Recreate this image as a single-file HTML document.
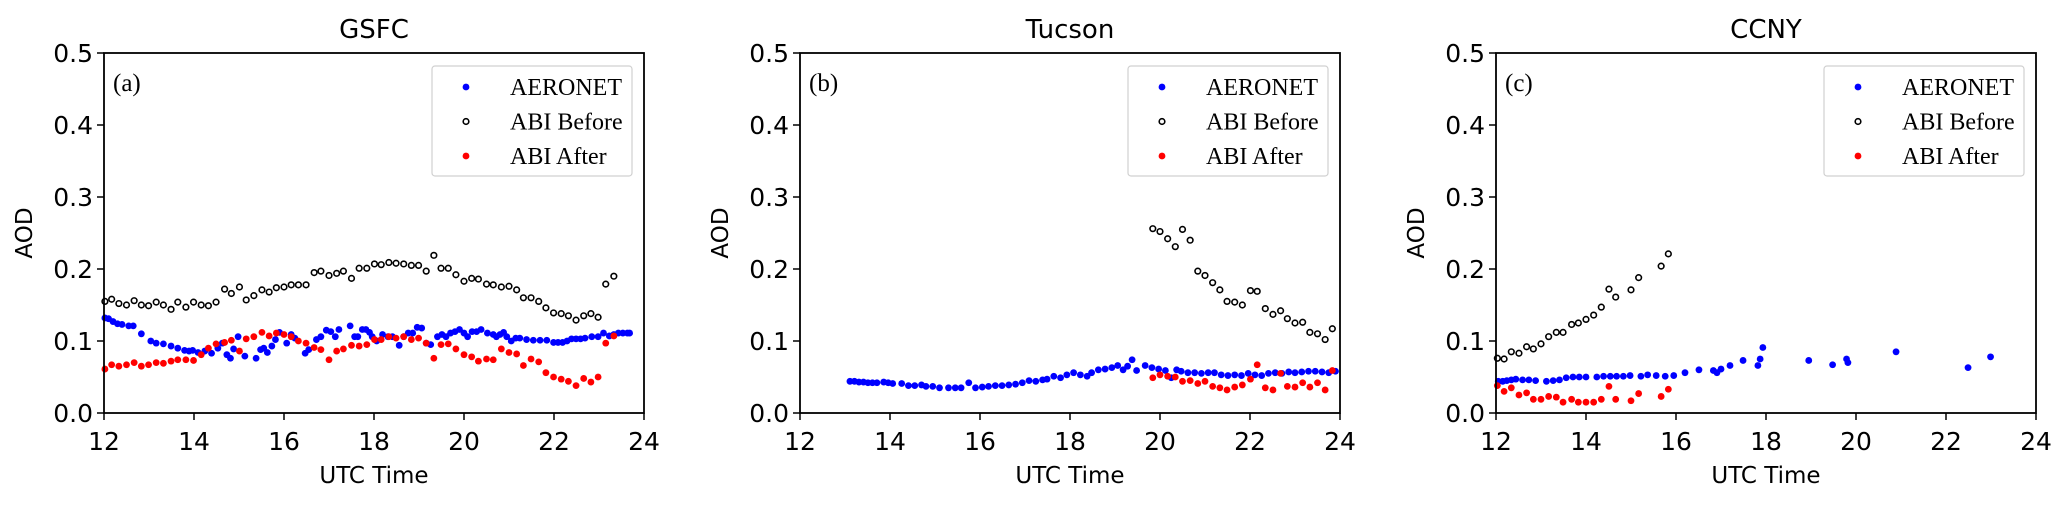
<!DOCTYPE html>
<html><head><meta charset="utf-8"><style>
body{margin:0;background:#fff;width:2067px;height:500px;overflow:hidden}
svg text{font-family:"DejaVu Sans","Liberation Sans",sans-serif;fill:#000}
.serif{font-family:"Liberation Serif",serif}
</style></head><body>
<svg id="chart" width="2067" height="500" xmlns="http://www.w3.org/2000/svg"></svg>
<script>
const panelTitles=["GSFC","Tucson","CCNY"];
const panelLabels=["(a)","(b)","(c)"];
const xTicks=[12,14,16,18,20,22,24];
const yTicks=[0.0,0.1,0.2,0.3,0.4,0.5];
const yTickLabels=["0.0","0.1","0.2","0.3","0.4","0.5"];
const legendLabels=["AERONET","ABI Before","ABI After"];

const gsfcAeronetT=[12.02,12.10,12.20,12.30,12.40,12.55,12.65,12.83,13.04,13.16,13.32,13.49,13.64,13.79,13.89,13.97,14.09,14.24,14.39,14.53,14.63,14.73,14.81,14.88,14.98,15.13,15.38,15.48,15.55,15.63,15.73,15.81,15.90,16.06,16.16,16.24,16.47,16.55,16.72,16.82,16.94,17.04,17.14,17.22,17.47,17.57,17.64,17.74,17.82,17.90,17.96,18.06,18.19,18.31,18.41,18.56,18.66,18.76,18.86,18.96,19.06,19.16,19.26,19.41,19.51,19.60,19.70,19.80,19.90,20.00,20.08,20.18,20.28,20.38,20.52,20.65,20.72,20.80,20.88,20.95,21.05,21.15,21.24,21.39,21.54,21.69,21.84,21.99,22.09,22.19,22.29,22.39,22.49,22.59,22.69,22.84,22.98,23.10,23.23,23.33,23.43,23.53,23.63,23.68];
const gsfcAeronetV=[0.132,0.131,0.127,0.124,0.123,0.121,0.121,0.110,0.100,0.097,0.096,0.093,0.090,0.087,0.086,0.087,0.084,0.086,0.083,0.090,0.097,0.081,0.076,0.089,0.106,0.079,0.076,0.088,0.090,0.084,0.093,0.102,0.112,0.097,0.109,0.104,0.083,0.088,0.102,0.106,0.115,0.113,0.106,0.116,0.121,0.106,0.106,0.116,0.116,0.112,0.106,0.100,0.109,0.106,0.106,0.094,0.106,0.111,0.111,0.119,0.118,0.097,0.095,0.106,0.109,0.106,0.111,0.113,0.116,0.111,0.106,0.113,0.113,0.116,0.111,0.109,0.106,0.109,0.112,0.106,0.100,0.104,0.104,0.102,0.101,0.101,0.101,0.098,0.098,0.098,0.100,0.103,0.103,0.103,0.104,0.106,0.106,0.111,0.107,0.109,0.111,0.111,0.111,0.111];
const gsfcAbiT=[12.02,12.17,12.33,12.50,12.67,12.83,12.99,13.16,13.32,13.49,13.64,13.82,13.99,14.16,14.32,14.49,14.68,14.83,15.01,15.16,15.33,15.51,15.67,15.83,16.00,16.16,16.32,16.49,16.67,16.82,17.00,17.17,17.32,17.50,17.67,17.84,18.01,18.16,18.33,18.49,18.66,18.83,18.99,19.16,19.33,19.49,19.65,19.82,20.00,20.17,20.32,20.50,20.65,20.83,21.00,21.17,21.32,21.49,21.66,21.82,21.99,22.16,22.32,22.49,22.66,22.82,22.98,23.15,23.33];
const gsfcBeforeV=[0.155,0.158,0.152,0.150,0.156,0.150,0.149,0.154,0.150,0.144,0.154,0.147,0.154,0.150,0.149,0.154,0.172,0.166,0.175,0.157,0.163,0.171,0.168,0.174,0.175,0.178,0.178,0.178,0.195,0.197,0.191,0.194,0.197,0.187,0.201,0.201,0.207,0.206,0.209,0.208,0.207,0.205,0.205,0.197,0.219,0.201,0.201,0.192,0.183,0.187,0.186,0.179,0.178,0.175,0.176,0.171,0.160,0.160,0.155,0.146,0.139,0.138,0.135,0.129,0.135,0.138,0.133,0.179,0.190];
const gsfcAfterV=[0.061,0.067,0.065,0.067,0.070,0.065,0.067,0.070,0.069,0.072,0.074,0.074,0.073,0.081,0.090,0.096,0.098,0.101,0.086,0.103,0.106,0.112,0.107,0.111,0.109,0.106,0.100,0.097,0.091,0.088,0.074,0.086,0.089,0.094,0.093,0.095,0.102,0.102,0.106,0.104,0.106,0.102,0.104,0.097,0.076,0.095,0.096,0.089,0.081,0.078,0.072,0.075,0.074,0.089,0.084,0.082,0.066,0.075,0.071,0.056,0.050,0.047,0.044,0.038,0.048,0.043,0.050,0.097,0.107];

const tucAeronetT=[13.11,13.21,13.31,13.41,13.51,13.61,13.71,13.86,13.96,14.06,14.26,14.41,14.55,14.70,14.80,14.95,15.10,15.30,15.45,15.58,15.75,15.90,16.05,16.19,16.34,16.49,16.64,16.79,16.94,17.09,17.24,17.39,17.49,17.64,17.79,17.93,18.08,18.23,18.38,18.48,18.63,18.78,18.93,19.06,19.18,19.28,19.38,19.48,19.67,19.82,19.97,20.12,20.25,20.37,20.47,20.62,20.77,20.92,21.07,21.21,21.36,21.51,21.66,21.81,21.96,22.11,22.26,22.41,22.56,22.71,22.86,23.00,23.15,23.30,23.45,23.60,23.75,23.90];
const tucAeronetV=[0.044,0.044,0.043,0.043,0.042,0.042,0.042,0.043,0.042,0.041,0.041,0.038,0.038,0.039,0.037,0.037,0.035,0.035,0.035,0.035,0.042,0.035,0.036,0.037,0.038,0.038,0.039,0.040,0.042,0.045,0.044,0.046,0.047,0.051,0.049,0.053,0.056,0.053,0.051,0.056,0.060,0.061,0.063,0.066,0.060,0.065,0.074,0.059,0.066,0.063,0.061,0.059,0.049,0.060,0.058,0.056,0.056,0.055,0.056,0.056,0.053,0.052,0.053,0.052,0.055,0.053,0.052,0.055,0.056,0.055,0.057,0.056,0.057,0.058,0.058,0.057,0.056,0.058];
const tucAbiT=[19.84,20.00,20.17,20.34,20.50,20.67,20.84,21.00,21.17,21.33,21.49,21.66,21.83,22.01,22.16,22.34,22.51,22.68,22.83,23.00,23.17,23.33,23.50,23.67,23.83];
const tucBeforeV=[0.256,0.252,0.242,0.231,0.255,0.240,0.197,0.191,0.181,0.171,0.155,0.154,0.150,0.170,0.169,0.145,0.137,0.142,0.131,0.125,0.126,0.112,0.110,0.102,0.117];
const tucAfterV=[0.049,0.053,0.051,0.050,0.044,0.045,0.041,0.044,0.037,0.035,0.032,0.036,0.039,0.047,0.067,0.035,0.032,0.055,0.037,0.036,0.042,0.036,0.042,0.032,0.059];

const ccnyAeronetT=[12.05,12.15,12.24,12.34,12.44,12.59,12.73,12.88,13.12,13.27,13.41,13.56,13.71,13.85,14.00,14.24,14.39,14.54,14.68,14.83,14.98,15.22,15.37,15.56,15.76,15.95,16.20,16.51,16.83,16.91,17.00,17.20,17.49,17.82,17.87,17.93,18.95,19.48,19.79,19.82,20.89,22.49,22.99];
const ccnyAeronetV=[0.044,0.044,0.045,0.046,0.047,0.046,0.046,0.045,0.044,0.045,0.046,0.049,0.050,0.050,0.050,0.050,0.051,0.051,0.051,0.051,0.052,0.051,0.053,0.052,0.051,0.052,0.056,0.060,0.059,0.056,0.061,0.066,0.073,0.066,0.075,0.091,0.073,0.067,0.075,0.070,0.085,0.063,0.078];
const ccnyAbiT=[12.03,12.18,12.34,12.51,12.68,12.83,13.00,13.17,13.34,13.49,13.68,13.83,14.00,14.17,14.34,14.51,14.66,15.00,15.17,15.67,15.83];
const ccnyBeforeV=[0.076,0.075,0.085,0.083,0.092,0.089,0.096,0.106,0.112,0.112,0.123,0.125,0.130,0.136,0.147,0.172,0.161,0.171,0.188,0.204,0.221];
const ccnyAfterV=[0.038,0.030,0.035,0.025,0.028,0.019,0.019,0.023,0.022,0.015,0.019,0.015,0.015,0.015,0.019,0.037,0.019,0.017,0.027,0.023,0.033];

const NS="http://www.w3.org/2000/svg";
const svg=document.getElementById('chart');
function mk(tag,attrs,parent){const e=document.createElementNS(NS,tag);for(const k in attrs)e.setAttribute(k,attrs[k]);(parent||svg).appendChild(e);return e;}

const panels=[
 {left:104,aT:gsfcAeronetT,aV:gsfcAeronetV,bT:gsfcAbiT,bV:gsfcBeforeV,cT:gsfcAbiT,cV:gsfcAfterV},
 {left:800,aT:tucAeronetT,aV:tucAeronetV,bT:tucAbiT,bV:tucBeforeV,cT:tucAbiT,cV:tucAfterV},
 {left:1496,aT:ccnyAeronetT,aV:ccnyAeronetV,bT:ccnyAbiT,bV:ccnyBeforeV,cT:ccnyAbiT,cV:ccnyAfterV}
];
const W=540,TOP=53,BOT=413;
panels.forEach((p,i)=>{
 const g=mk('g',{});
 
 
 const xs=t=>p.left+(t-12)/12*W;
 const ys=v=>BOT-v/0.5*(BOT-TOP);
 const title=mk('text',{x:p.left+W/2,y:38,'text-anchor':'middle','font-size':26},g);title.textContent=panelTitles[i];
 
 xTicks.forEach(t=>{
  const l=mk('line',{x1:xs(t),x2:xs(t),y1:BOT,y2:BOT+7,stroke:'#000','stroke-width':1.5},g);
  
  const tx=mk('text',{x:xs(t),y:450,'text-anchor':'middle','font-size':25},g);tx.textContent=t;
  
 });
 yTicks.forEach((v,k)=>{
  const l=mk('line',{x1:p.left-7,x2:p.left,y1:ys(v),y2:ys(v),stroke:'#000','stroke-width':1.5},g);
  
  const tx=mk('text',{x:p.left-11,y:ys(v)+9,'text-anchor':'end','font-size':25},g);tx.textContent=yTickLabels[k];
  
 });
 const xl=mk('text',{x:p.left+W/2,y:483,'text-anchor':'middle','font-size':23},g);xl.textContent='UTC Time';
 
 const yl=mk('text',{x:0,y:0,'text-anchor':'middle','font-size':23,transform:`translate(${p.left-72},233) rotate(-90)`},g);yl.textContent='AOD';
 
 const pl=mk('text',{x:p.left+9,y:91,'font-size':25,class:'serif'},g);pl.textContent=panelLabels[i];
 
 p.aT.forEach((t,k)=>{const c=mk('circle',{cx:xs(t),cy:ys(p.aV[k]),r:3.4,fill:'#0000ff'},g);
  });
 p.bT.forEach((t,k)=>{const c=mk('circle',{cx:xs(t),cy:ys(p.bV[k]),r:2.8,fill:'none',stroke:'#000','stroke-width':1.6},g);
  });
 p.cT.forEach((t,k)=>{const c=mk('circle',{cx:xs(t),cy:ys(p.cV[k]),r:3.4,fill:'#ff0000'},g);
  });
 const fr=mk('rect',{x:p.left,y:TOP,width:W,height:BOT-TOP,fill:'none',stroke:'#000','stroke-width':1.8},g);
 
 const lg=mk('g',{},g);
 
 const lx=p.left+W-212,ly=66;
 mk('rect',{x:lx,y:ly,width:200,height:110,rx:3,fill:'#fff',stroke:'#d0d0d0','stroke-width':1.2},lg);
 legendLabels.forEach((lab,k)=>{
  const cy=ly+21+k*34.5;
  let m;
  if(k===1)m=mk('circle',{cx:lx+34,cy:cy,r:2.8,fill:'none',stroke:'#000','stroke-width':1.6},lg);
  else m=mk('circle',{cx:lx+34,cy:cy,r:3.4,fill:k===0?'#0000ff':'#ff0000'},lg);
  
  const tx=mk('text',{x:lx+78,y:cy+8,'font-size':24,class:'serif'},lg);tx.textContent=lab;
  
 });
});
</script>
</body></html>
